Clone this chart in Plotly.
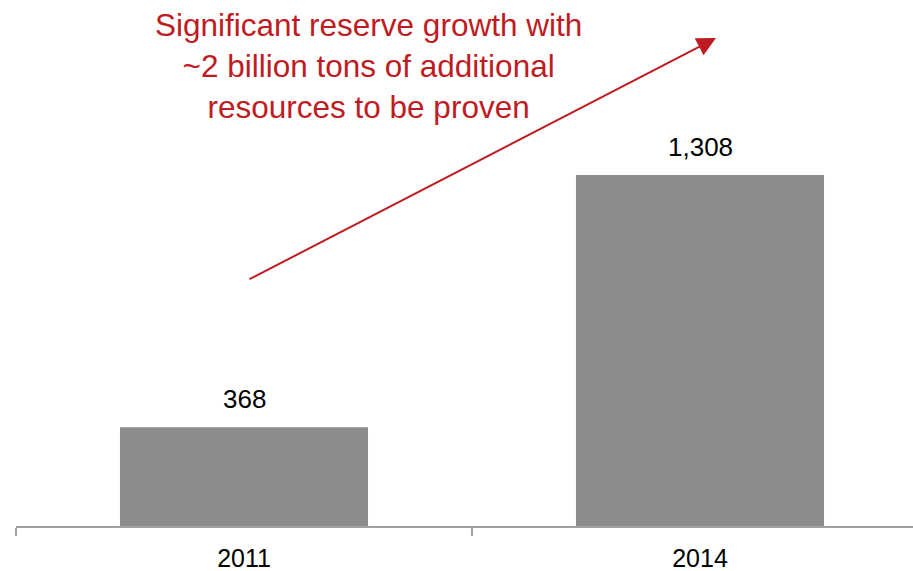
import plotly.graph_objects as go

years = ["2011", "2014"]
reserves = [368, 1308]
value_labels = ["368", "1,308"]
note_lines = ["Significant reserve growth with",
              "~2 billion tons of additional",
              "resources to be proven"]

W, H = 913, 571
ML, MB, MT, MR = 16, 45, 0, 0
plot_w = W - ML - MR
plot_h = H - MT - MB
cat_px = 456.0
x_end = -0.5 + plot_w / cat_px
y_max = 1308 * plot_h / 351.0

RED = "#bf1b22"
GRAY = "#8c8c8c"
FONT = "Liberation Sans, Arial, sans-serif"

fig = go.Figure()
fig.add_trace(go.Bar(x=years, y=reserves, width=0.544,
                     marker=dict(color=GRAY, line=dict(width=0)),
                     hoverinfo="skip"))

annotations = []
for i, (v, lab) in enumerate(zip(reserves, value_labels)):
    annotations.append(dict(x=i, y=v, xref="x", yref="y", text=lab,
                            showarrow=False, yanchor="bottom", yshift=11,
                            font=dict(family=FONT, size=26, color="#000000")))

# Red note
annotations.append(dict(x=(368 - ML) / plot_w, y=1 - 66 / plot_h,
                        xref="paper", yref="paper",
                        text="<br>".join(note_lines), showarrow=False,
                        align="center", xanchor="center", yanchor="middle",
                        font=dict(family=FONT, size=31.5, color=RED)))

# Arrow
tip_x, tip_y = 716, 38
tail_x, tail_y = 248, 280
annotations.append(dict(x=(tip_x - ML) / plot_w, y=1 - tip_y / plot_h,
                        xref="paper", yref="paper", text="",
                        showarrow=True, ax=tail_x - tip_x, ay=tail_y - tip_y,
                        axref="pixel", ayref="pixel",
                        arrowhead=2, arrowsize=1.9, arrowwidth=2,
                        arrowcolor=RED, standoff=0, startstandoff=0))

fig.update_layout(
    width=W, height=H,
    margin=dict(l=ML, r=MR, t=MT, b=MB, pad=0),
    paper_bgcolor="white", plot_bgcolor="white",
    showlegend=False,
    annotations=annotations,
    xaxis=dict(type="category", range=[-0.5, x_end],
               showline=True, linecolor="#a0a0a0", linewidth=1.5,
               ticks="outside", ticklen=8, tickcolor="#a0a0a0", tickwidth=1.5,
               tickson="boundaries", ticklabelstandoff=9,
               showgrid=False, zeroline=False,
               tickfont=dict(family=FONT, size=25, color="#000000")),
    yaxis=dict(range=[0, y_max], visible=False, showgrid=False,
               zeroline=False),
)

fig.write_html("out.html")
